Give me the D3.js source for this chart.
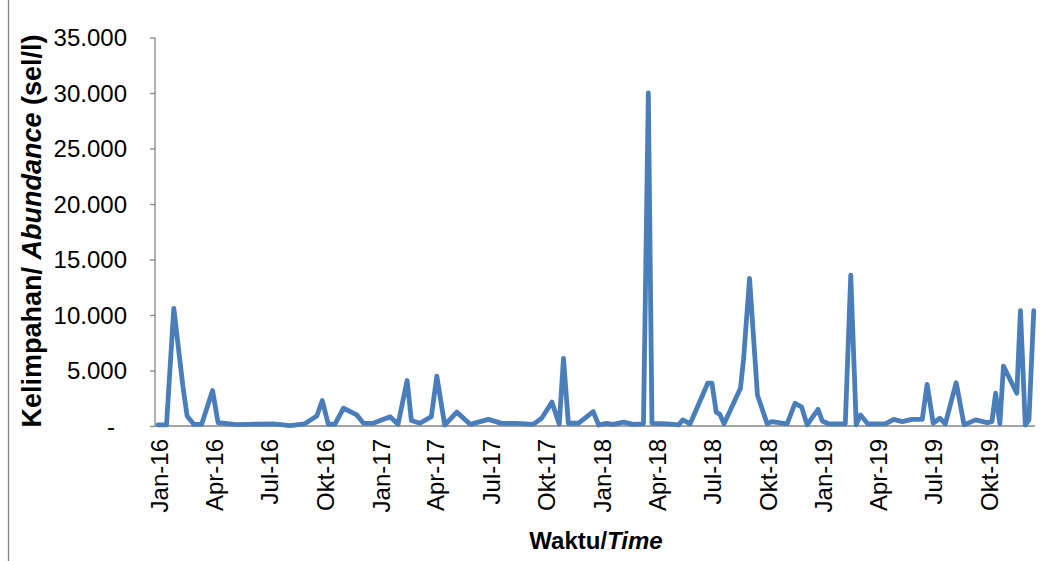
<!doctype html>
<html lang="en">
<head>
  <meta charset="utf-8">
  <title>Kelimpahan</title>
  <style>
    * { margin: 0; padding: 0; box-sizing: border-box; }
    body { background: #fff; }
    svg text { font-family: "Liberation Sans", Arial, sans-serif; fill: #000; }
    .axis path, .axis line { stroke: #868686; stroke-width: 1.3px; }
  </style>
</head>
<body>
  <div id="container"></div>
  <script src="https://cdn.jsdelivr.net/npm/d3@7"></script>
  <script>
    // sampling dates
    const dates = [
      '2016-01-03','2016-01-17','2016-01-29','2016-02-13','2016-02-20','2016-03-02','2016-03-15','2016-04-02',
      '2016-04-11','2016-05-12','2016-07-11','2016-08-08','2016-09-01','2016-09-21','2016-09-30','2016-10-10',
      '2016-10-21','2016-11-04','2016-11-26','2016-12-07','2016-12-23','2017-01-20','2017-02-02','2017-02-17',
      '2017-02-24','2017-03-10','2017-03-29','2017-04-07','2017-04-20','2017-05-10','2017-06-01','2017-07-01',
      '2017-07-23','2017-08-17','2017-09-13','2017-09-27','2017-10-14','2017-10-26','2017-11-02','2017-11-10',
      '2017-11-27','2017-12-21','2017-12-30','2018-01-12','2018-01-23','2018-02-09','2018-02-25','2018-03-14',
      '2018-03-22','2018-03-28','2018-04-22','2018-05-11','2018-05-18','2018-05-30','2018-06-28','2018-07-05',
      '2018-07-12','2018-07-18','2018-07-25','2018-08-21','2018-08-26','2018-09-05','2018-09-18','2018-10-04',
      '2018-10-12','2018-11-06','2018-11-19','2018-11-30','2018-12-09','2018-12-27','2019-01-03','2019-01-13',
      '2019-02-10','2019-02-19','2019-02-28','2019-03-07','2019-03-19','2019-04-17','2019-05-01','2019-05-15',
      '2019-05-31','2019-06-17','2019-06-25','2019-07-05','2019-07-16','2019-07-25','2019-08-12','2019-08-25',
      '2019-09-13','2019-10-02','2019-10-10','2019-10-16','2019-10-23','2019-10-29','2019-11-20','2019-11-26',
      '2019-12-04','2019-12-10','2019-12-18'
    ];
    // abundance, cells per litre
    const values = [
      100, 100, 10600, 3600, 900, 150, 150, 3200,
      300, 120, 200, 30, 200, 900, 2300, 150,
      180, 1600, 1000, 250, 240, 840, 150, 4100,
      500, 250, 840, 4500, 90, 1250, 150, 600,
      240, 240, 150, 700, 2150, 150, 6100, 250,
      250, 1300, 90, 240, 150, 350, 150, 200,
      30000, 240, 200, 100, 550, 200, 3850, 3850,
      1250, 1050, 200, 3400, 5950, 13300, 2800, 200,
      400, 200, 2050, 1700, 100, 1500, 450, 200,
      200, 13600, 100, 1000, 200, 200, 600, 400,
      600, 600, 3750, 250, 700, 200, 3900, 100,
      550, 300, 400, 2950, 200, 5400, 2950, 10400,
      90, 550, 10400
    ];
    const yTicks = [0, 5000, 10000, 15000, 20000, 25000, 30000, 35000];
    const monthNames = ['Jan','Feb','Mar','Apr','Mei','Jun','Jul','Agu','Sep','Okt','Nov','Des'];

    const W = 1042, H = 561;
    const svg = d3.select('#container').append('svg').attr('width', W).attr('height', H);

    // chart area border (left edge visible)
    svg.append('line').attr('x1', 8.5).attr('x2', 8.5).attr('y1', 0).attr('y2', H)
      .attr('stroke', '#868686').attr('stroke-width', 1.3);

    const parse = d3.timeParse('%Y-%m-%d');
    const data = dates.map((d, i) => ({ date: parse(d), v: values[i] }));

    const x = d3.scaleTime().domain([parse('2015-12-29'), parse('2019-12-20')]).range([155, 1035]);
    const y = d3.scaleLinear().domain([0, 35000]).range([426, 37.5]);

    // y axis
    const fmt = d => d === 0 ? '-' : d3.format(',')(d).replace(/,/g, '.');
    const gy = svg.append('g').attr('class', 'axis').attr('transform', 'translate(155,0)')
      .call(d3.axisLeft(y).tickValues(yTicks).tickSize(5).tickPadding(23).tickFormat(fmt));
    gy.select('.domain').attr('d', `M0,${y(35000)}V${y(0)}`);
    gy.selectAll('text').attr('font-size', 24).attr('fill', '#000').attr('font-family', '"Liberation Sans", Arial, sans-serif')
      .attr('dy', '0.34em')
      .filter(d => d === 0).attr('x', -40);

    // x axis: date axis, labels every 3 months
    const xTicks = d3.timeMonth.every(3).range(parse('2016-01-01'), parse('2019-11-01'));
    const gx = svg.append('g').attr('class', 'axis').attr('transform', `translate(0,${y(0)})`)
      .call(d3.axisBottom(x).tickValues(xTicks).tickSize(0)
        .tickFormat(d => monthNames[d.getMonth()] + '-' + d3.timeFormat('%y')(d)));
    gx.select('.domain').attr('d', `M155,0H1035`);
    gx.selectAll('text')
      .attr('font-size', 24).attr('fill', '#000').attr('font-family', '"Liberation Sans", Arial, sans-serif')
      .attr('transform', 'rotate(-90)').attr('text-anchor', 'end')
      .attr('x', -13).attr('y', 0).attr('dy', '0.45em');

    // the series
    const line = d3.line().x(d => x(d.date)).y(d => y(d.v));
    svg.append('path').datum(data).attr('d', line)
      .attr('fill', 'none').attr('stroke', '#4a7ebb').attr('stroke-width', 4.8)
      .attr('stroke-linejoin', 'round').attr('stroke-linecap', 'round');

    // axis titles
    const xt = svg.append('text').attr('x', 596).attr('y', 549).attr('text-anchor', 'middle')
      .attr('font-size', 24).attr('font-weight', 'bold');
    xt.append('tspan').text('Waktu/');
    xt.append('tspan').attr('font-style', 'italic').text('Time');

    const yt = svg.append('text').attr('transform', 'translate(41,231) rotate(-90)').attr('text-anchor', 'middle')
      .attr('font-size', 27).attr('font-weight', 'bold');
    yt.append('tspan').text('Kelimpahan/ ');
    yt.append('tspan').attr('font-style', 'italic').text('Abundance');
    yt.append('tspan').text(' (sel/l)');
  </script>
</body>
</html>
